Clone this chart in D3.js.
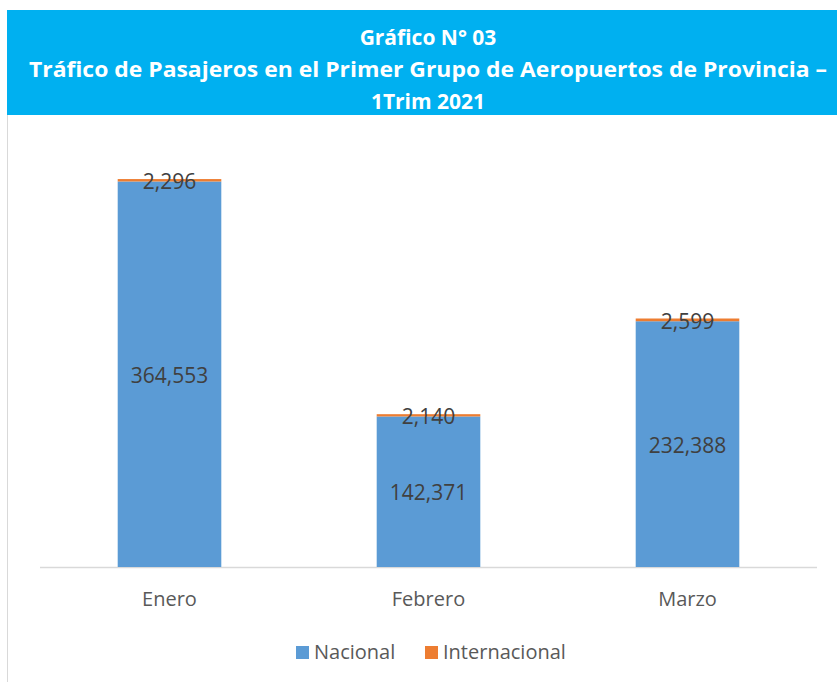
<!DOCTYPE html>
<html>
<head>
<meta charset="utf-8">
<script src="https://cdn.jsdelivr.net/npm/d3@7"></script>
<style>
  html, body { margin: 0; padding: 0; background: #fff; }
  svg { display: block; font-family: "Open Sans", "Noto Sans", sans-serif; }
</style>
</head>
<body>
<svg id="chart" width="837" height="682"></svg>
<script>
const meses = ['Enero', 'Febrero', 'Marzo'];
const nacional = [364553, 142371, 232388];
const internacional = [2296, 2140, 2599];
const series = ['Nacional', 'Internacional'];
const colores = ['#5B9BD5', '#ED7D31'];
const titulo = ['Gráfico N° 03', 'Tráfico de Pasajeros en el Primer Grupo de Aeropuertos de Provincia –', '1Trim 2021'];

const svg = d3.select('#chart');
const W = 837, H = 682;

// banda del titulo
svg.append('rect').attr('x', 7).attr('y', 10).attr('width', W - 7).attr('height', 105).attr('fill', '#00B0F0');
svg.append('line').attr('x1', 7.5).attr('x2', 7.5).attr('y1', 115).attr('y2', H).attr('stroke', '#d9d9d9');

const lineasY = [39, 71, 103];
titulo.forEach((t, i) => {
    const txt = svg.append('text')
        .attr('x', 428).attr('y', lineasY[i])
        .attr('text-anchor', 'middle')
        .attr('dominant-baseline', 'middle')
        .style('fill', '#fff')
        .style('font-weight', 'bold')
        .style('font-size', '21px')
        .text(t);
    if (i === 1) txt.attr('textLength', 798).attr('lengthAdjust', 'spacingAndGlyphs');
});

const x = d3.scaleBand().domain(meses).range([40, 817]).paddingInner(0.6).paddingOuter(0.3);
const y = d3.scaleLinear().domain([0, 400000]).range([567, 144]);

const datos = meses.map((m, i) => ({ mes: m, nac: nacional[i], int: internacional[i] }));

// eje
svg.append('line').attr('x1', 40).attr('x2', 817).attr('y1', y(0) + 0.5).attr('y2', y(0) + 0.5)
    .attr('stroke', '#d9d9d9').attr('stroke-width', 1.5);

datos.forEach(d => {
    svg.append('rect')
        .attr('x', x(d.mes)).attr('width', x.bandwidth())
        .attr('y', y(d.nac)).attr('height', y(0) - y(d.nac))
        .attr('fill', colores[0]);
    svg.append('rect')
        .attr('x', x(d.mes)).attr('width', x.bandwidth())
        .attr('y', y(d.nac + d.int)).attr('height', y(d.nac) - y(d.nac + d.int))
        .attr('fill', colores[1]);

    const cx = x(d.mes) + x.bandwidth() / 2;
    svg.append('text')
        .attr('x', cx).attr('y', (y(d.nac) + y(0)) / 2 + 3)
        .attr('text-anchor', 'middle').attr('dominant-baseline', 'middle')
        .style('fill', '#404040').style('font-size', '21px')
        .text(d3.format(',')(d.nac));
    svg.append('text')
        .attr('x', cx).attr('y', (y(d.nac) + y(d.nac + d.int)) / 2 + 3)
        .attr('text-anchor', 'middle').attr('dominant-baseline', 'middle')
        .style('fill', '#404040').style('font-size', '21px')
        .text(d3.format(',')(d.int));

    svg.append('text')
        .attr('x', cx).attr('y', 601)
        .attr('text-anchor', 'middle').attr('dominant-baseline', 'middle')
        .style('fill', '#595959').style('font-size', '20px')
        .text(d.mes);
});

// leyenda
const leyX = [296, 425];
series.forEach((s, i) => {
    svg.append('rect').attr('x', leyX[i]).attr('y', 646).attr('width', 13).attr('height', 13).attr('fill', colores[i]);
    svg.append('text')
        .attr('x', leyX[i] + 18).attr('y', 654)
        .attr('dominant-baseline', 'middle')
        .style('fill', '#595959').style('font-size', '20px')
        .text(s);
});
</script>
</body>
</html>
